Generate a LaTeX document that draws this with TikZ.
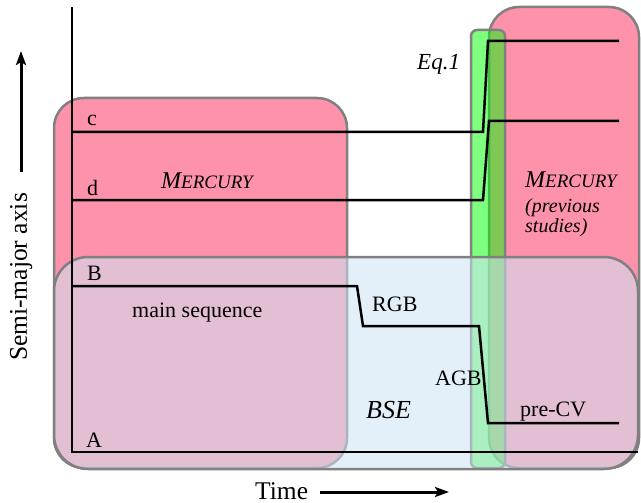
\documentclass[tikz,border=0pt]{standalone}
\usepackage{fontspec}
\setmainfont{Liberation Serif}
\usetikzlibrary{arrows.meta}
\definecolor{pinkfill}{RGB}{255,146,171}
\definecolor{bsefill}{RGB}{204,228,244}
\definecolor{eqfill}{RGB}{0,255,0}
\definecolor{boxline}{RGB}{128,128,128}
\newcommand{\fakesc}[1]{{\fontsize{24}{28}\selectfont M\fontsize{19}{22}\selectfont #1}}
\tikzset{
  region/.style={draw=boxline, line width=2.5pt, rounded corners=30pt},
  track/.style={draw=black, line width=2.5pt, line join=miter},
  lbl/.style={inner sep=0pt, anchor=base west, font=\fontsize{22}{26}\selectfont},
  axlbl/.style={inner sep=0pt, font=\fontsize{25.5}{30}\selectfont},
  axarrow/.style={draw=black, line width=3pt, -{Stealth[length=14pt,width=10pt,inset=3pt]}}
}
\begin{document}
\begin{tikzpicture}[x=1pt,y=-1pt]
\useasboundingbox (0,0) rectangle (641,503);
% regions
\draw[region, fill=pinkfill] (54,98) rectangle (347,468);
\draw[region, fill=pinkfill] (489,7) rectangle (639,468);
\draw[region, rounded corners=6pt, fill=eqfill, fill opacity=0.5] (471,30) rectangle (505,468);
\draw[region, rounded corners=34pt, fill=bsefill, fill opacity=0.55] (54,257) rectangle (638,469);
% coordinates
\coordinate (ax0) at (72,7);
\coordinate (ax1) at (72,452);
\coordinate (c0) at (72,132);  \coordinate (c1) at (483,132); \coordinate (c2) at (488,41);  \coordinate (c3) at (619,41);
\coordinate (d0) at (72,200);  \coordinate (d1) at (483,200); \coordinate (d2) at (489,121); \coordinate (d3) at (619,121);
\coordinate (b0) at (72,286);  \coordinate (b1) at (357,286); \coordinate (b2) at (363,326); \coordinate (b3) at (479,326);
\coordinate (b4) at (488,423); \coordinate (b5) at (619,423);
\coordinate (a1) at (638,452);
\coordinate (ya0) at (21,172); \coordinate (ya1) at (21,51);
\coordinate (ta0) at (320,492); \coordinate (ta1) at (449,492);
% tracks
\draw[track] (ax0) -- (ax1) -- (a1);
\draw[track] (c0) -- (c1) -- (c2) -- (c3);
\draw[track] (d0) -- (d1) -- (d2) -- (d3);
\draw[track] (b0) -- (b1) -- (b2) -- (b3) -- (b4) -- (b5);
% axis arrows
\draw[axarrow] (ya0) -- (ya1);
\draw[axarrow] (ta0) -- (ta1);
% labels
\node[lbl] (lc) at (87,126) {c};
\node[lbl] (ld) at (87,195) {d};
\node[lbl] (lB) at (87,280) {B};
\node[lbl] (lA) at (86,447) {A};
\node[lbl] (ms) at (132,317) {main sequence};
\node[lbl] (merc1) at (161,189) {\itshape\fakesc{ERCURY}};
\node[lbl] (rgb) at (372,311) {RGB};
\node[lbl] (agb) at (435,385) {AGB};
\node[lbl, font=\fontsize{26}{30}\selectfont\itshape] (bse) at (366,418) {BSE};
\node[lbl] (precv) at (520,416) {pre-CV};
\node[lbl, font=\fontsize{23}{27}\selectfont\itshape] (eq) at (417,70) {Eq.1};
\node[lbl] (merc2) at (525,188) {\itshape\fakesc{ERCURY}};
\node[lbl, font=\fontsize{20}{24}\selectfont\itshape] (prev1) at (525,212) {(previous};
\node[lbl, font=\fontsize{20}{24}\selectfont\itshape] (prev2) at (525,232) {studies)};
\node[axlbl, rotate=90, anchor=base] (ylab) at (27,277) {Semi-major axis};
\node[axlbl, anchor=base west] (xlab) at (255,499) {Time};
\end{tikzpicture}
\end{document}
